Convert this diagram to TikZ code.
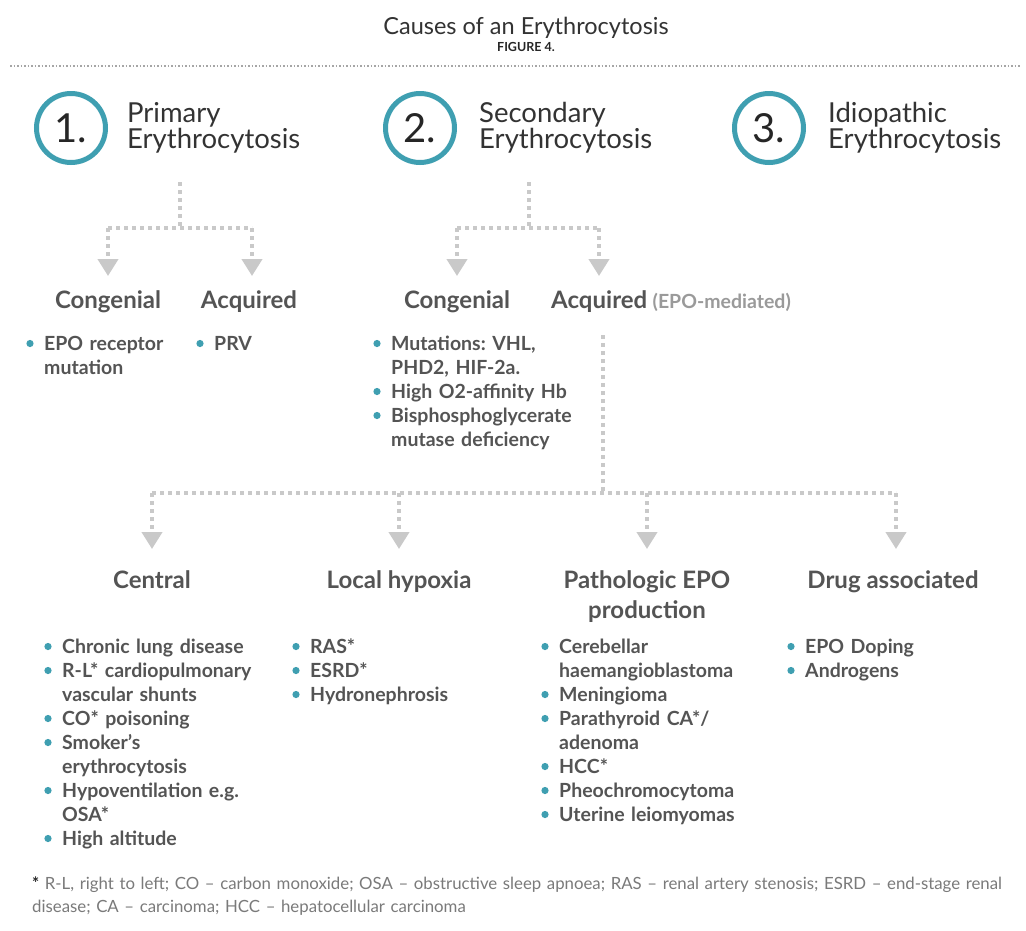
\documentclass[tikz,border=0pt]{standalone}
\usepackage{fontspec}
\setmainfont{Lato}
\usetikzlibrary{arrows.meta}
\definecolor{circteal}{HTML}{3F9FB1}
\definecolor{txtgray}{HTML}{545454}
\definecolor{conngray}{HTML}{C9C9C9}
\definecolor{notegray}{HTML}{7A7A7A}
\definecolor{epogray}{HTML}{9A9A9A}
\frenchspacing
\tikzset{
  conn/.style={draw=conngray, line width=4pt, dash pattern=on 4pt off 4pt},
  connarrow/.style={conn, -{Triangle[width=20pt,length=17pt]}},
  numcirc/.style={circle, draw=circteal, line width=5pt, minimum size=69pt, inner sep=0pt,
     font=\fontsize{40}{40}\selectfont, text=black!85},
  bigtitle/.style={anchor=base west, inner sep=0pt, align=left, text=black!80,
     font=\fontsize{27.5}{26}\selectfont},
  head/.style={anchor=base, inner sep=0pt, text=txtgray, font=\bfseries\fontsize{24}{30}\selectfont, align=center},
  itemtext/.style={anchor=base west, inner sep=0pt, text width=280pt, align=left, text=txtgray,
     font=\bfseries\fontsize{19.5}{24}\selectfont},
  bul/.style={fill=circteal},
}
\begin{document}
\begin{tikzpicture}[x=1pt,y=-1pt]
\useasboundingbox[fill=white] (0,0) rectangle (1026,930);
% title
\node[anchor=base, inner sep=0pt, text=black!80, font=\fontsize{23.5}{24}\selectfont] (title) at (526,34) {Causes of an Erythrocytosis};
\node[anchor=base, inner sep=0pt, text=black!85, font=\bfseries\fontsize{12.5}{12}\selectfont] (fig) at (526,51) {FIGURE 4.};
\coordinate (ruleL) at (10,66);
\coordinate (ruleR) at (1020,66);
\draw[draw=black!35, line width=1.3pt, dash pattern=on 1.5pt off 2pt] (ruleL) -- (ruleR);

% circles
\node[numcirc] (c1) at (71,128) {1.};
\node[numcirc] (c2) at (420,128) {2.};
\node[numcirc] (c3) at (769,128) {3.};
\node[bigtitle] (t1) at (127,148) {Primary\\Erythrocytosis};
\node[bigtitle] (t2) at (479,148) {Secondary\\Erythrocytosis};
\node[bigtitle] (t3) at (828,148) {Idiopathic\\Erythrocytosis};

% primary connectors
\coordinate (p1top) at (180,182);
\coordinate (p1mid) at (180,228);
\coordinate (p1L) at (108,228);
\coordinate (p1R) at (252,228);
\coordinate (p1Le) at (108,276);
\coordinate (p1Re) at (252,276);
\draw[conn] (p1top) -- (p1mid);
\draw[conn] (p1L) -- (p1R);
\draw[connarrow] (p1L) -- (p1Le);
\draw[connarrow] (p1R) -- (p1Re);

% secondary connectors
\coordinate (p2top) at (529,182);
\coordinate (p2mid) at (529,228);
\coordinate (p2L) at (457,228);
\coordinate (p2R) at (599,228);
\coordinate (p2Le) at (457,276);
\coordinate (p2Re) at (599,276);
\draw[conn] (p2top) -- (p2mid);
\draw[conn] (p2L) -- (p2R);
\draw[connarrow] (p2L) -- (p2Le);
\draw[connarrow] (p2R) -- (p2Re);

% top headings
\node[head] (cong1) at (108,308) {Congenial};
\node[head] (acq1) at (249,308) {Acquired};
\node[head] (cong2) at (457,308) {Congenial};
\node[head, anchor=base west] (acq2) at (551,308) {Acquired};
\node[anchor=base west, inner sep=0pt, text=epogray, font=\bfseries\fontsize{19.5}{20}\selectfont] (epo) at (acq2.base east) {\hspace{5pt}(EPO-mediated)};

% top bullet lists
\node[itemtext] (a1) at (44,350) {EPO receptor\\mutation};
\node[itemtext] (a2) at (214,350) {PRV};
\node[itemtext] (b1) at (391,350) {Mutations: VHL,\\PHD2, HIF-2a.};
\node[itemtext] (b2) at (391,398) {High O2-affinity Hb};
\node[itemtext] (b3) at (391,422) {Bisphosphoglycerate\\mutase deficiency};

% EPO connectors
\coordinate (etop) at (603,335);
\coordinate (emid) at (603,493);
\coordinate (e1) at (152,493);
\coordinate (e2) at (399,493);
\coordinate (e3) at (647,493);
\coordinate (e4) at (896,493);
\coordinate (e1e) at (152,549);
\coordinate (e2e) at (399,549);
\coordinate (e3e) at (647,549);
\coordinate (e4e) at (896,549);
\draw[conn] (etop) -- (emid);
\draw[conn] (e1) -- (e4);
\draw[connarrow] (e1) -- (e1e);
\draw[connarrow] (e2) -- (e2e);
\draw[connarrow] (e3) -- (e3e);
\draw[connarrow] (e4) -- (e4e);

% bottom headings
\node[head] (h1) at (152,588) {Central};
\node[head] (h2) at (399,588) {Local hypoxia};
\node[head] (h3) at (647,618) {Pathologic EPO\\production};
\node[head] (h4) at (893,588) {Drug associated};

% bottom lists
\node[itemtext] (d1) at (62,653) {Chronic lung disease};
\node[itemtext] (d2) at (62,677) {R-L* cardiopulmonary\\vascular shunts};
\node[itemtext] (d3) at (62,725) {CO* poisoning};
\node[itemtext] (d4) at (62,749) {Smoker’s\\erythrocytosis};
\node[itemtext] (d5) at (62,797) {Hypoventilation e.g.\\OSA*};
\node[itemtext] (d6) at (62,845) {High altitude};

\node[itemtext] (f1) at (310,653) {RAS*};
\node[itemtext] (f2) at (310,677) {ESRD*};
\node[itemtext] (f3) at (310,701) {Hydronephrosis};

\node[itemtext] (g1) at (559,653) {Cerebellar\\haemangioblastoma};
\node[itemtext] (g2) at (559,701) {Meningioma};
\node[itemtext] (g3) at (559,725) {Parathyroid CA*/\\adenoma};
\node[itemtext] (g4) at (559,773) {HCC*};
\node[itemtext] (g5) at (559,797) {Pheochromocytoma};
\node[itemtext] (g6) at (559,821) {Uterine leiomyomas};

\node[itemtext] (k1) at (805,653) {EPO Doping};
\node[itemtext] (k2) at (805,677) {Androgens};

\foreach \n in {a1,a2,b1,b2,b3,d1,d2,d3,d4,d5,d6,f1,f2,f3,g1,g2,g3,g4,g5,g6,k1,k2}
  \fill[bul] ([shift={(-14,-6.5)}]\n.base west) circle (3.6);

% footnote
\node[anchor=base west, inner sep=0pt, text width=990pt, align=left, text=notegray,
  font=\fontsize{16.8}{23}\selectfont] (note) at (32,889)
  {{\bfseries\color{black!85}*} R-L, right to left; CO – carbon monoxide; OSA – obstructive sleep apnoea; RAS – renal artery stenosis; ESRD – end-stage renal\\disease; CA – carcinoma; HCC – hepatocellular carcinoma};
\end{tikzpicture}
\end{document}
